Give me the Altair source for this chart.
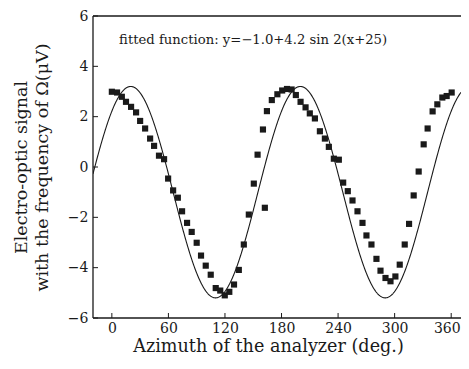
import altair as alt
import pandas as pd

# Measured points (azimuth in degrees, signal in microvolts)
AZIMUTH = [0, 5.5, 10.6, 15, 20.4, 25.7, 30, 35.3, 40.6, 44.8, 50, 55.4, 59.7, 65, 70,
           74.5, 79.8, 84.7, 90, 94.6, 99.6, 104.9, 110.2, 115, 119.8, 124.6, 129.6,
           134.7, 140, 145.3, 150.6, 154.6, 160.3, 162.3, 164.5, 169.7, 175.6, 180.7,
           185.8, 190.7, 195.2, 200.2, 205.5, 210, 215.4, 220.7, 226, 230.2, 235.5,
           240.8, 245.4, 250.3, 255.3, 260.6, 265.9, 270.1, 275.4, 280.7, 285, 290.3,
           295.6, 300.8, 305.4, 310.7, 315.3, 320.2, 325.5, 330.8, 335, 340.3, 345.3,
           350.6, 355.2, 360.5]
SIGNAL = [2.99, 2.96, 2.79, 2.59, 2.39, 2.17, 1.83, 1.53, 1.13, 0.84, 0.45, 0.31, -0.46,
          -0.93, -1.22, -1.76, -2.22, -2.58, -3.01, -3.52, -3.92, -4.28, -4.81, -4.91,
          -5.10, -4.96, -4.67, -4.09, -3.08, -1.89, -0.66, 0.49, 1.49, -1.62, 2.22, 2.66,
          2.89, 3.04, 3.10, 3.08, 2.86, 2.59, 2.37, 2.13, 1.93, 1.42, 1.13, 0.80, 0.33,
          0.29, -0.62, -0.96, -1.33, -1.76, -2.22, -2.72, -3.08, -3.65, -4.12, -4.41,
          -4.54, -4.35, -3.88, -3.08, -2.26, -1.13, -0.18, 0.90, 1.53, 2.21, 2.49, 2.76,
          2.82, 2.96]

# Fitted function parameters as printed on the chart: y = -1.0 + 4.2 sin 2(x+25)
FIT_OFFSET = -1.0
FIT_AMP = 4.2
FIT_PHASE = 25

X_DOMAIN = [-20, 370.4]   # right side of the original frame is cut off at the page edge
Y_DOMAIN = [-6, 6]
X_TICKS = [0, 60, 120, 180, 240, 300, 360]
Y_TICKS = [-6, -4, -2, 0, 2, 4, 6]

ANNOTATION = "fitted function: y=\u22121.0+4.2 sin 2(x+25)"
X_TITLE = "Azimuth of the analyzer (deg.)"
Y_TITLE = ["Electro-optic signal", "with the frequency of \u03a9(\u03bcV)"]

FONT = "DejaVu Serif"
W, H = 368, 302
INK = "#1a1a1a"

pts = pd.DataFrame({"az": AZIMUTH, "sig": SIGNAL})

xs = alt.Scale(domain=X_DOMAIN, nice=False, zero=False)
ys = alt.Scale(domain=Y_DOMAIN, nice=False, zero=False)

x_axis = alt.Axis(values=X_TICKS, ticks=False, domain=False, grid=False,
                  labelFont=FONT, labelFontSize=14, labelColor=INK, labelPadding=3,
                  labelFlush=12, labelFlushOffset=9,
                  title=X_TITLE, titleFont=FONT, titleFontSize=17.6, titleFontWeight="normal",
                  titleColor=INK, titlePadding=2, titleX=175, titleAnchor="middle")
y_axis = alt.Axis(values=Y_TICKS, ticks=False, domain=False, grid=False,
                  labelFont=FONT, labelFontSize=14, labelColor=INK, labelPadding=5,
                  title=Y_TITLE, titleFont=FONT, titleFontSize=17.5, titleFontWeight="normal",
                  titleColor=INK, titlePadding=16, titleLineHeight=21)

curve = alt.Chart(alt.sequence(X_DOMAIN[0], X_DOMAIN[1] + 0.5, 0.5, as_="az")).transform_calculate(
    sig=f"{FIT_OFFSET} + {FIT_AMP} * sin(2 * (datum.az + {FIT_PHASE}) * PI / 180)"
).mark_line(color=INK, strokeWidth=1.1, clip=True).encode(
    x=alt.X("az:Q", scale=xs, axis=x_axis),
    y=alt.Y("sig:Q", scale=ys, axis=y_axis),
)

points = alt.Chart(pts).mark_square(size=38, color=INK, opacity=1).encode(
    x=alt.X("az:Q", scale=xs),
    y=alt.Y("sig:Q", scale=ys),
)

xt = alt.Chart(pd.DataFrame({"t": X_TICKS})).mark_rule(color=INK, strokeWidth=1).encode(
    x=alt.X("t:Q", scale=xs), y=alt.value(H), y2=alt.value(H - 5))
yt = alt.Chart(pd.DataFrame({"t": Y_TICKS})).mark_rule(color=INK, strokeWidth=1).encode(
    y=alt.Y("t:Q", scale=ys), x=alt.value(0), x2=alt.value(5))

# open frame: top, left and bottom edges (the right edge lies outside the picture)
frame_style = dict(color=INK, strokeWidth=1.3)
top_edge = alt.Chart().mark_rule(**frame_style).encode(
    x=alt.value(0), x2=alt.value(W), y=alt.value(0))
left_edge = alt.Chart().mark_rule(**frame_style).encode(
    x=alt.value(0), y=alt.value(0), y2=alt.value(H))
bottom_edge = alt.Chart().mark_rule(**frame_style).encode(
    x=alt.value(0), x2=alt.value(W), y=alt.value(H))

note = alt.Chart(pd.DataFrame({"az": [7.7], "sig": [5.05], "txt": [ANNOTATION]})).mark_text(
    align="left", baseline="middle", font=FONT, fontSize=13.2, color=INK
).encode(x=alt.X("az:Q", scale=xs), y=alt.Y("sig:Q", scale=ys), text="txt:N")

chart = alt.layer(curve, points, xt, yt, top_edge, left_edge, bottom_edge, note).properties(
    width=W, height=H, padding={"left": 85, "top": 8, "right": 0, "bottom": 40},
    autosize=alt.AutoSizeParams(type="none"),
    background="white",
).configure_view(stroke=None)

chart.save("out.html", embed_options={"renderer": "svg", "actions": False})
